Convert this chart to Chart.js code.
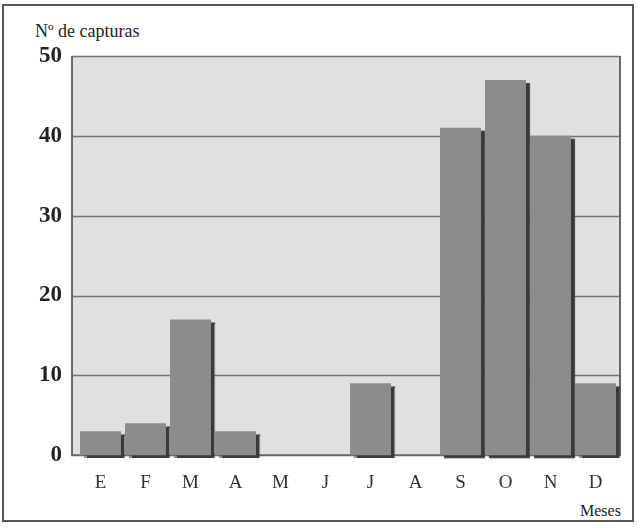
<!DOCTYPE html>
<html>
<head>
<meta charset="utf-8">
<script src="https://cdn.jsdelivr.net/npm/chart.js@4"></script>
<style>
  html, body { margin: 0; padding: 0; background: #fff; }
  .wrap { position: relative; width: 638px; height: 528px; }
  .frame { position: absolute; left: 2px; top: 4px; width: 632px; height: 518px; border: 2px solid #555; box-sizing: border-box; }
  .ytitle { position: absolute; left: 35px; top: 22px; font: 18px/18px "Liberation Serif", serif; color: #222; }
  .xtitle { position: absolute; left: 580px; top: 503px; font: 16px/16px "Liberation Serif", serif; color: #222; }
  canvas { position: absolute; left: 0; top: 0; }
</style>
</head>
<body>
<div class="wrap">
  <div class="frame"></div>
  <div class="ytitle">Nº de capturas</div>
  <div class="xtitle">Meses</div>
  <canvas id="myChart" width="638" height="528"></canvas>
</div>
<script>
// ===== data =====
const months = ["E", "F", "M", "A", "M", "J", "J", "A", "S", "O", "N", "D"];
const capturas = [3, 4, 17, 3, 0, 0, 9, 0, 41, 47, 40, 9];
const yMax = 50;
const yStep = 10;

// the grey panel is a bit wider than the bar area
const padL = 6;
const padR = 2;

// grey plot background, grid lines and border
const plotBox = {
  id: "plotBox",
  beforeDatasetsDraw(chart) {
    const { ctx, chartArea: a } = chart;
    const yScale = chart.scales.y;
    const left = a.left - padL;
    const right = a.right + padR;
    ctx.save();
    ctx.fillStyle = "#e0e0e0";
    ctx.fillRect(left, a.top, right - left, a.bottom - a.top);
    ctx.strokeStyle = "#727272";
    ctx.lineWidth = 1.6;
    yScale.ticks.forEach((t) => {
      if (t.value === 0) return;
      const y = Math.round(yScale.getPixelForValue(t.value)) + 0.5;
      ctx.beginPath();
      ctx.moveTo(left, y);
      ctx.lineTo(right, y);
      ctx.stroke();
    });
    ctx.strokeStyle = "#666";
    ctx.lineWidth = 2;
    ctx.beginPath();
    ctx.moveTo(left, a.top);
    ctx.lineTo(left, a.bottom);
    ctx.lineTo(right, a.bottom);
    ctx.lineTo(right, a.top);
    ctx.stroke();
    ctx.restore();
  },
};

// dark drop shadow on the bars
const barShadow = {
  id: "barShadow",
  beforeDatasetDraw(chart) {
    const ctx = chart.ctx;
    ctx.save();
    ctx.shadowColor = "#3a3a3a";
    ctx.shadowOffsetX = 4;
    ctx.shadowOffsetY = 3;
    ctx.shadowBlur = 1;
  },
  afterDatasetDraw(chart) {
    chart.ctx.restore();
  },
};

let myChart = document.getElementById("myChart").getContext("2d");
let barChart = new Chart(myChart, {
  type: "bar",
  data: {
    labels: months,
    datasets: [
      {
        data: capturas,
        backgroundColor: "#8c8c8c",
        borderWidth: 0,
        barPercentage: 0.91,
        categoryPercentage: 1,
        clip: false,
      },
    ],
  },
  options: {
    responsive: false,
    animation: false,
    layout: { padding: { left: 10, right: 20, top: 56, bottom: 18 } },
    plugins: {
      legend: { display: false },
      tooltip: { enabled: false },
    },
    scales: {
      x: {
        grid: { display: false, drawTicks: false },
        border: { display: false },
        ticks: {
          color: "#333",
          padding: 16,
          font: { family: "Liberation Serif", size: 19 },
        },
      },
      y: {
        min: 0,
        max: yMax,
        afterFit(scale) {
          scale.width = 68;
        },
        grid: { display: false, drawTicks: false },
        border: { display: false },
        ticks: {
          stepSize: yStep,
          color: "#222",
          padding: 16,
          font: { family: "Liberation Serif", size: 23, weight: "bold" },
        },
      },
    },
  },
  plugins: [plotBox, barShadow],
});
</script>
</body>
</html>
